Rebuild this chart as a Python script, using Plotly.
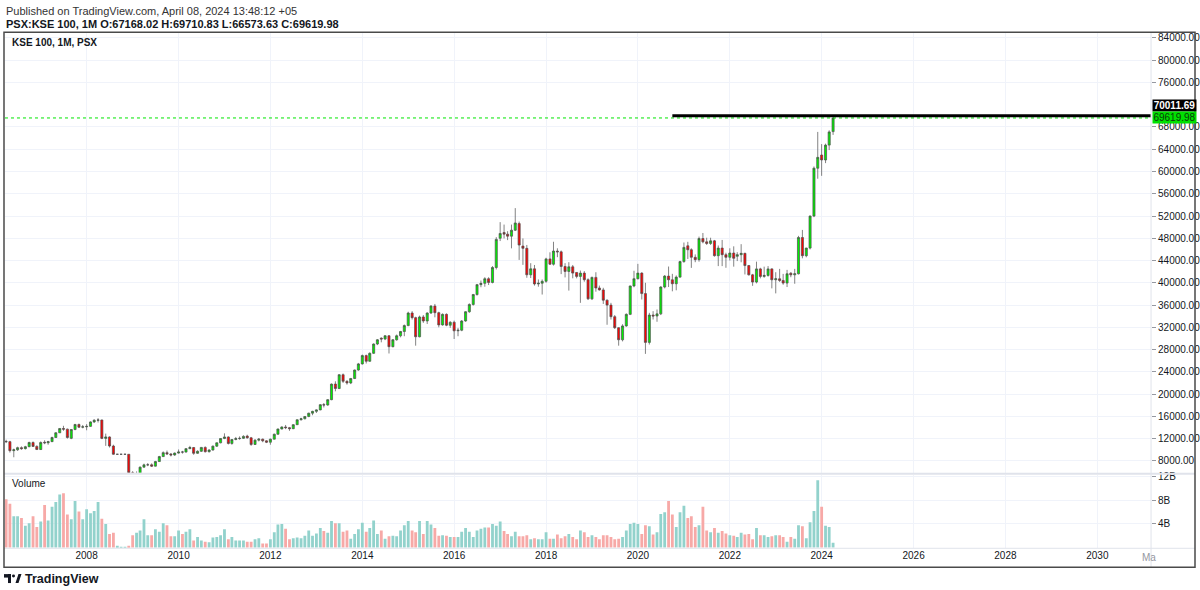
import plotly.graph_objects as go
import pandas as pd

# ---------------- data (monthly KSE 100, Apr 2006 .. Apr 2024) ----------------
dates = pd.date_range("2006-04-01", periods=217, freq="MS")

open_ = [
    11500, 11450, 9840, 9990, 10380, 10200, 10550, 11300, 10600,                      # 2006 Apr-Dec
    10040, 11350, 11250, 11450, 12200, 13050, 13820, 13700, 12050, 13640, 14540, 14050,  # 2007
    14120, 14200, 15000, 15300, 15350, 12040, 12300, 10670, 9187, 9187, 9187, 9187,      # 2008
    5865, 4930, 5200, 6870, 7285, 7300, 7050, 7880, 8770, 9480, 9240, 9060,              # 2009
    9400, 9600, 9580, 10200, 10400, 9360, 9720, 10420, 9650, 9950, 10650, 11250,         # 2010
    12020, 12300, 11130, 11840, 12000, 12050, 12450, 12140, 10950, 11720, 11900, 11600,  # 2011
    11350, 11900, 12790, 13730, 14090, 13970, 13790, 14500, 15390, 15570, 15980, 16570,  # 2012
    16900, 17160, 18100, 18040, 19000, 21800, 21000, 23480, 22300, 22000, 22800, 24330,  # 2013
    25430, 26920, 25900, 27330, 29000, 30050, 29900, 30480, 28520, 29760, 30480, 31250,  # 2014
    32310, 34570, 33740, 30300, 33860, 33140, 34570, 35820, 34630, 32430, 34330, 32370,  # 2015
    32910, 31370, 31480, 33140, 34800, 36110, 37890, 39670, 39900, 40730, 40060, 42750,  # 2016
    48000, 49040, 48740, 48380, 49450, 50640, 46600, 46190, 41440, 42510, 39790, 39920,  # 2017
    40270, 44290, 43340, 45710, 45560, 42930, 42040, 42870, 41860, 41150, 41740, 40560,  # 2018
    37120, 40970, 39070, 38720, 36880, 35990, 33910, 31930, 29760, 32250, 34330, 39430,  # 2019
    40730, 41740, 38060, 29290, 34210, 34030, 34420, 39240, 41200, 40540, 39830, 41020,  # 2020
    43810, 46650, 45940, 44580, 44160, 47960, 47360, 47070, 47540, 44870, 46240, 45050,  # 2021
    44580, 45350, 44760, 45050, 45290, 43100, 41430, 40130, 42500, 41140, 41320, 42500,  # 2022
    40540, 40720, 40420, 39950, 41730, 41430, 41620, 48140, 44870, 46240, 51990, 60590,  # 2023
    62960, 62070, 64740, 67168.02,                                                     # 2024
]
high = [
    11800, 11600, 10200, 10550, 10600, 10700, 11450, 11500, 10800,
    11500, 11700, 11600, 12350, 13150, 13900, 14300, 13800, 13700, 14650, 14700, 14450,
    14600, 15100, 15500, 15680, 15400, 12900, 12400, 10900, 9187, 9187, 9187, 9200,
    6150, 6100, 7000, 7500, 7600, 7550, 8000, 8900, 9700, 9850, 9400, 9500,
    10050, 9800, 10300, 10700, 10500, 9900, 10500, 10600, 10100, 10750, 11300, 12100,
    12950, 12400, 11900, 12300, 12400, 12600, 12700, 12300, 11900, 12100, 12000, 11700,
    12000, 12900, 13800, 14200, 14450, 14100, 14600, 15450, 15750, 16050, 16650, 17000,
    17250, 18200, 18400, 19100, 21900, 22300, 23600, 23700, 22500, 22900, 24400, 25600,
    27100, 27100, 27500, 29100, 29900, 30200, 30600, 30600, 29900, 30700, 31350, 32500,
    34800, 34900, 33900, 34100, 34200, 34700, 36000, 36200, 34800, 34500, 34500, 33100,
    33200, 31900, 33300, 34900, 36300, 38000, 39800, 40400, 41000, 41000, 43000, 48200,
    50900, 50460, 49270, 50460, 53420, 51000, 47970, 46800, 43520, 43200, 40600, 40600,
    44500, 45480, 47370, 46200, 45800, 43520, 43700, 43200, 41900, 42200, 42100, 40800,
    41100, 41900, 39500, 39100, 37000, 36400, 34200, 32000, 32550, 34500, 39500, 42160,
    43400, 41900, 40000, 34600, 34900, 35200, 39400, 41400, 42920, 41610, 41320, 43950,
    47240, 47360, 46200, 45100, 48300, 48950, 48100, 48100, 47700, 46700, 47700, 45400,
    46200, 46550, 45500, 46940, 45400, 43200, 41600, 43800, 42700, 42900, 43000, 42600,
    41900, 42500, 41600, 42320, 41900, 42500, 48430, 49500, 46300, 52100, 60900, 67110,
    64920, 65000, 67400, 69710.83,
]
low = [
    11200, 9500, 8650, 9800, 10000, 10050, 10450, 10500, 9950,
    9950, 11000, 10900, 11400, 12150, 13000, 13400, 12000, 11900, 13500, 13900, 13850,
    13500, 14100, 14800, 14900, 11900, 10700, 10400, 9100, 9187, 9187, 9187, 5800,
    4800, 4900, 5100, 6800, 7050, 6900, 7000, 7800, 8700, 9050, 8800, 8900,
    9300, 9300, 9500, 10100, 9100, 9250, 9600, 9500, 9500, 9850, 10500, 11150,
    11900, 10950, 10900, 11700, 11800, 11950, 12000, 10700, 10850, 11500, 11350, 11200,
    10900, 11850, 12700, 13650, 13700, 13400, 13700, 14450, 15250, 15450, 15850, 16200,
    16600, 17100, 17600, 17900, 18900, 20500, 20900, 22000, 21700, 21800, 22700, 24200,
    25300, 25500, 25800, 27200, 28800, 29300, 29700, 27300, 28400, 29600, 30200, 30400,
    32200, 33400, 28700, 30200, 32800, 32600, 34400, 33800, 32000, 32300, 32200, 31900,
    29900, 30400, 31300, 33000, 34600, 35900, 37700, 39200, 39300, 39600, 39900, 42400,
    47500, 47970, 47670, 46190, 49300, 44110, 43220, 40900, 40850, 39500, 39300, 37890,
    40000, 43200, 43100, 44600, 41560, 40970, 38600, 40800, 40800, 36400, 40200, 36900,
    36900, 38400, 38600, 36200, 32460, 33400, 31700, 28700, 29470, 32100, 34200, 39200,
    40600, 37000, 27230, 28900, 33400, 33000, 34200, 39000, 39240, 38470, 38650, 40900,
    43600, 44280, 42680, 43700, 43800, 47100, 46800, 46800, 44700, 43000, 43000, 42700,
    44000, 42900, 43900, 43690, 41500, 41300, 39450, 39900, 40800, 40900, 41100, 39000,
    38100, 40150, 39650, 39240, 41000, 39830, 41500, 44400, 44580, 46000, 51800, 58700,
    59220, 61500, 63850, 66573.63,
]
close = [
    11450, 9840, 9990, 10380, 10200, 10550, 11300, 10600, 10040,
    11300, 11250, 11450, 12200, 13050, 13820, 13700, 12200, 13640, 14540, 14050, 14120,
    14200, 15000, 15300, 15350, 12040, 12300, 10670, 9187, 9187, 9187, 9187, 5865,
    4930, 5200, 6870, 7285, 7300, 7050, 7880, 8770, 9480, 9240, 9060, 9400,
    9600, 9580, 10200, 10400, 9360, 9720, 10420, 9650, 9950, 10650, 11250, 12020,
    12300, 11130, 11840, 12000, 12050, 12400, 12140, 10950, 11720, 11900, 11600, 11350,
    11900, 12790, 13730, 14090, 13970, 13790, 14500, 15390, 15570, 15980, 16570, 16900,
    17160, 18100, 18040, 19000, 21800, 21000, 23480, 22300, 22000, 22800, 24330, 25430,
    26920, 25900, 27330, 29000, 29760, 29900, 30480, 28520, 29760, 30480, 31250, 32310,
    34570, 33740, 30300, 33860, 33140, 34570, 35820, 34630, 32430, 34330, 32370, 32910,
    31370, 31480, 33140, 34800, 36110, 37890, 39670, 39900, 40730, 40060, 42750, 47800,
    48860, 48740, 48380, 49450, 50750, 46780, 46190, 41440, 42510, 39790, 39920, 40270,
    44290, 43340, 45710, 45560, 42930, 42040, 42870, 41740, 41150, 41740, 40560, 37120,
    40970, 39070, 38720, 36880, 35990, 33910, 31930, 29760, 32250, 34330, 39430, 40730,
    41740, 38060, 29290, 34210, 34030, 34420, 39240, 41200, 40540, 39830, 41020, 43810,
    46360, 45940, 44580, 44160, 47960, 47360, 47070, 47540, 44870, 46240, 45050, 44580,
    45350, 44400, 45050, 45290, 43100, 41430, 40130, 42500, 41140, 41320, 42500, 40540,
    40720, 40420, 39950, 41620, 41430, 41620, 48140, 44870, 46240, 51990, 60590, 62540,
    62070, 64740, 67110, 69619.98,
]
volume_b = [  # billions of shares
    8.2, 7.4, 5.3, 5.3, 5.0, 3.7, 4.1, 5.3, 3.5,
    4.4, 7.2, 4.6, 6.9, 7.7, 9.0, 9.2, 5.6, 4.8, 7.9, 6.1, 4.8,
    6.5, 5.8, 6.2, 7.7, 4.9, 4.0, 2.3, 2.5, 0.3, 0.05, 0.05, 0.3,
    2.1, 2.5, 2.9, 4.8, 2.1, 2.1, 3.1, 2.7, 4.1, 3.8, 1.9, 1.9,
    2.9, 2.3, 2.7, 3.1, 1.2, 1.8, 1.2, 1.0, 0.9, 1.7, 1.8, 2.1,
    3.1, 1.4, 1.8, 1.2, 1.2, 1.2, 1.0, 1.0, 1.4, 1.6, 0.7, 0.7,
    1.4, 2.6, 3.9, 4.0, 3.2, 1.4, 1.6, 1.7, 1.6, 2.0, 2.9, 2.0,
    2.4, 3.3, 2.8, 2.5, 4.5, 4.1, 4.1, 2.7, 2.9, 1.5, 2.3, 3.1,
    4.2, 2.7, 3.3, 4.6, 2.3, 2.9, 1.5, 1.9, 2.0, 1.9, 2.9, 3.8,
    4.5, 2.9, 2.6, 4.5, 2.3, 4.5, 3.9, 3.3, 2.0, 2.1, 2.0, 1.8,
    1.8, 1.8, 2.7, 3.3, 2.7, 1.8, 2.9, 3.2, 3.4, 3.4, 4.0, 3.7,
    4.4, 2.8, 2.3, 1.9, 2.7, 1.9, 1.9, 2.1, 1.4, 1.6, 1.4, 1.4,
    2.6, 1.5, 1.5, 2.2, 1.6, 1.9, 2.3, 1.8, 1.4, 2.9, 2.6, 1.8,
    2.1, 1.8, 1.4, 2.1, 2.1, 1.8, 1.4, 1.5, 1.8, 2.9, 4.0, 4.2,
    4.0, 2.3, 3.8, 3.6, 2.2, 2.6, 5.7, 6.0, 7.9, 5.6, 3.5, 6.0,
    7.1, 5.0, 5.3, 3.5, 3.8, 6.9, 2.9, 2.6, 3.3, 2.5, 2.8, 2.4,
    2.1, 2.0, 1.8, 2.5, 2.2, 2.3, 1.4, 3.3, 2.1, 2.1, 1.8, 1.9,
    2.1, 2.1, 1.8, 1.0, 1.8, 1.5, 3.8, 3.6, 1.6, 4.3, 6.2, 11.4,
    6.9, 3.7, 3.5, 0.8,
]
assert len(open_) == len(high) == len(low) == len(close) == len(volume_b) == len(dates)

price_ticks = [8000, 12000, 16000, 20000, 24000, 28000, 32000, 36000, 40000, 44000,
               48000, 52000, 56000, 60000, 64000, 68000, 76000, 80000, 84000]
volume_ticks = [4, 8, 12]
volume_tick_labels = ["4B", "8B", "12B"]
year_ticks = ["2008-01-01", "2010-01-01", "2012-01-01", "2014-01-01", "2016-01-01", "2018-01-01",
              "2020-01-01", "2022-01-01", "2024-01-01", "2026-01-01", "2028-01-01", "2030-01-01"]
year_labels = ["2008", "2010", "2012", "2014", "2016", "2018", "2020", "2022", "2024", "2026", "2028", "2030"]

last_price = 69619.98
level_price = 70011.69
level_start = "2020-10-01"

# ---------------- helpers for pixel placement ----------------
W, H = 1200, 590
def px(x):
    return x / W
def py(y):
    return 1 - y / H

FONT = "Liberation Sans"
TXT = "#131722"
GRID = "#f0f3fa"
UP_VOL = "#92d2cc"
DN_VOL = "#f7a9a7"

vol_colors = [UP_VOL if c >= o else DN_VOL for o, c in zip(open_, close)]

fig = go.Figure()
fig.add_trace(go.Candlestick(
    x=dates, open=open_, high=high, low=low, close=close,
    increasing=dict(fillcolor="#00f000", line=dict(color="#4d4d4d", width=0.7)),
    decreasing=dict(fillcolor="#ff0000", line=dict(color="#4d4d4d", width=0.7)),
    whiskerwidth=0, xaxis="x", yaxis="y", hoverinfo="skip", showlegend=False,
))
fig.add_trace(go.Bar(
    x=dates, y=volume_b, marker=dict(color=vol_colors, line=dict(width=0)),
    xaxis="x2", yaxis="y2", hoverinfo="skip", showlegend=False,
))

x_range = ["2006-03-23", "2031-03-04"]
xdom = [px(5), px(1152)]

fig.update_layout(
    width=W, height=H, margin=dict(l=0, r=0, t=0, b=0),
    paper_bgcolor="white", plot_bgcolor="white",
    font=dict(family=FONT, size=10, color=TXT),
    bargap=0.2, boxgap=0.15,
    xaxis=dict(domain=xdom, range=x_range, anchor="y", type="date",
               tickvals=year_ticks, showticklabels=False, showgrid=True, gridcolor=GRID,
               zeroline=False, showline=False, ticks="", rangeslider=dict(visible=False)),
    xaxis2=dict(domain=xdom, range=x_range, anchor="y2", type="date", matches="x",
                tickvals=year_ticks, ticktext=year_labels, showticklabels=True,
                showgrid=True, gridcolor=GRID, zeroline=False, showline=False, ticks="",
                tickfont=dict(size=10, color=TXT, family=FONT)),
    yaxis=dict(domain=[py(472), py(28)], range=[5857, 85100], anchor="x", side="right",
               tickvals=price_ticks, tickformat=".2f", showgrid=True, gridcolor=GRID,
               zeroline=False, showline=False, ticks="outside", ticklen=4, tickcolor="#9598a1",
               tickfont=dict(size=10, color=TXT, family=FONT)),
    yaxis2=dict(domain=[py(548), py(474)], range=[-0.12, 12.32], anchor="x2", side="right",
                tickvals=volume_ticks, ticktext=volume_tick_labels, showgrid=True, gridcolor=GRID,
                zeroline=False, showline=False, ticks="outside", ticklen=4, tickcolor="#9598a1",
                tickfont=dict(size=10, color=TXT, family=FONT)),
)

shapes = [
    # last price dotted line
    dict(type="line", xref="paper", yref="y", x0=px(5), x1=px(1152), y0=last_price, y1=last_price,
         line=dict(color="#00e600", width=1, dash="dot")),
    # horizontal level (drawn ray)
    dict(type="line", xref="x", yref="y", x0=level_start, x1=x_range[1], y0=level_price, y1=level_price,
         line=dict(color="#000000", width=3)),
    # pane separators
    dict(type="line", xref="paper", yref="paper", x0=px(4), x1=px(1196), y0=py(473), y1=py(473),
         line=dict(color="#e0e3eb", width=2)),
    dict(type="line", xref="paper", yref="paper", x0=px(4), x1=px(1196), y0=py(548), y1=py(548),
         line=dict(color="#e0e3eb", width=1)),
    dict(type="line", xref="paper", yref="paper", x0=px(1152), x1=px(1152), y0=py(29), y1=py(567),
         line=dict(color="#e0e3eb", width=1)),
    # outer frame
    dict(type="rect", xref="paper", yref="paper", x0=px(4), x1=px(1196), y0=py(567), y1=py(28.5),
         line=dict(color="#4a4a4a", width=1.5), fillcolor="rgba(0,0,0,0)"),
    # TradingView logo
    dict(type="rect", xref="paper", yref="paper", x0=px(4), x1=px(11), y0=py(577.5), y1=py(574),
         line=dict(width=0), fillcolor="#131722"),
    dict(type="rect", xref="paper", yref="paper", x0=px(8), x1=px(11), y0=py(583), y1=py(574),
         line=dict(width=0), fillcolor="#131722"),
    dict(type="circle", xref="paper", yref="paper", x0=px(12), x1=px(15), y0=py(577.5), y1=py(574.5),
         line=dict(width=0), fillcolor="#131722"),
    dict(type="path", xref="paper", yref="paper",
         path=f"M {px(15.5)} {py(583)} L {px(18.5)} {py(574)} L {px(21.5)} {py(574)} L {px(18.5)} {py(583)} Z",
         line=dict(width=0), fillcolor="#131722"),
]
fig.update_layout(shapes=shapes)

annotations = [
    dict(x=px(4), y=py(7), text="Published on TradingView.com, April 08, 2024 13:48:12 +05",
         font=dict(size=11, color="#333333", family=FONT)),
    dict(x=px(4), y=py(20), text="<b>PSX:KSE 100, 1M O:67168.02 H:69710.83 L:66573.63 C:69619.98</b>",
         font=dict(size=11, color=TXT, family=FONT)),
    dict(x=px(10), y=py(39), text="<b>KSE 100, 1M, PSX</b>", font=dict(size=10, color=TXT, family=FONT)),
    dict(x=px(10), y=py(483), text="Volume", font=dict(size=10, color=TXT, family=FONT)),
    dict(x=px(1141), y=py(557), text="Ma", font=dict(size=10, color="#9598a1", family=FONT)),
    dict(x=px(23), y=py(578.5), text="<b>TradingView</b>", font=dict(size=12.5, color=TXT, family=FONT)),
    dict(x=px(1153), y=py(102), text="<b>70011.69</b>", bgcolor="#000000", width=43, height=11,
         align="center", borderpad=0, font=dict(size=10, color="#ffffff", family=FONT)),
    dict(x=px(1153), y=py(114), text="69619.98", bgcolor="#00e000", width=43, height=11,
         align="center", borderpad=0, font=dict(size=10, color="#0a3a0a", family=FONT)),
]
for a in annotations:
    a.update(xref="paper", yref="paper", xanchor="left", yanchor="middle", showarrow=False)
fig.update_layout(annotations=annotations)

fig.write_html(
    "out.html",
    config={"displayModeBar": False},
    post_script=["document.body.style.margin='0';document.body.style.padding='0';"
                 "document.body.style.overflow='hidden';"],
)
